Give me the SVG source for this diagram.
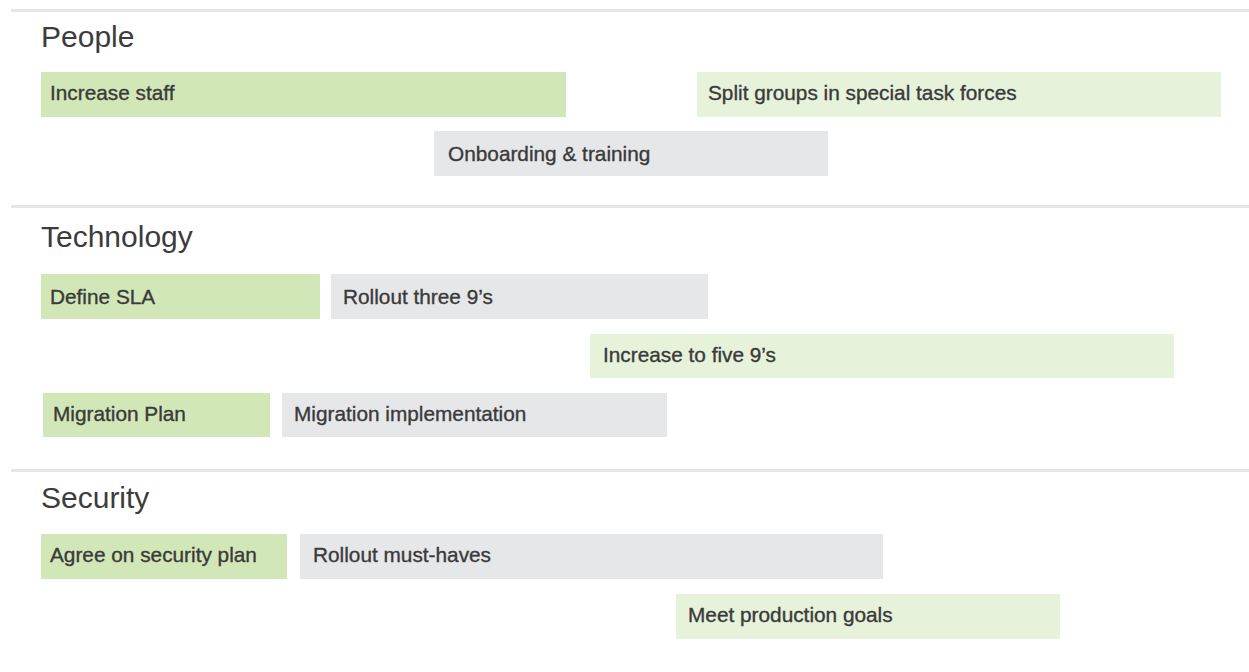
<svg xmlns="http://www.w3.org/2000/svg" width="1249" height="672" viewBox="0 0 1249 672">
<style>
.bg{fill:#ffffff}
.div{fill:#e6e6e6}
.h{font-family:"Liberation Sans",Arial,sans-serif;font-size:30px;fill:#3c3c3c}
.t{font-family:"Liberation Sans",Arial,sans-serif;font-size:20.8px;fill:#3a3a3a;stroke:#3a3a3a;stroke-width:0.35}
.g1{fill:#d2e7b7}
.g2{fill:#e6f2da}
.gr{fill:#e6e7e9}
</style>
<rect class="bg" x="0" y="0" width="1249" height="672"/>
<g id="dividers">
<rect class="div" x="11" y="9" width="1238" height="3"/>
<rect class="div" x="11" y="205" width="1238" height="3"/>
<rect class="div" x="11" y="469" width="1238" height="3"/>
</g>
<g id="heading-people"><text class="h" x="41" y="47">People</text></g>
<g id="heading-technology"><text class="h" x="41" y="247">Technology</text></g>
<g id="heading-security"><text class="h" x="41" y="508">Security</text></g>
<g id="increase-staff"><rect class="g1" x="41" y="72" width="525" height="45"/><text class="t" x="50" y="100">Increase staff</text></g>
<g id="split-groups"><rect class="g2" x="697" y="72" width="524" height="45"/><text class="t" x="708" y="100">Split groups in special task forces</text></g>
<g id="onboarding"><rect class="gr" x="434" y="131" width="394" height="45"/><text class="t" x="448" y="161">Onboarding &amp; training</text></g>
<g id="define-sla"><rect class="g1" x="41" y="274" width="279" height="45"/><text class="t" x="50" y="304">Define SLA</text></g>
<g id="rollout-three"><rect class="gr" x="331" y="274" width="377" height="45"/><text class="t" x="343" y="304">Rollout three 9’s</text></g>
<g id="increase-five"><rect class="g2" x="590" y="334" width="584" height="44"/><text class="t" x="603" y="362">Increase to five 9’s</text></g>
<g id="migration-plan"><rect class="g1" x="43" y="393" width="227" height="44"/><text class="t" x="53" y="421">Migration Plan</text></g>
<g id="migration-impl"><rect class="gr" x="282" y="393" width="385" height="44"/><text class="t" x="294" y="421">Migration implementation</text></g>
<g id="agree-security"><rect class="g1" x="41" y="534" width="246" height="45"/><text class="t" x="50" y="562">Agree on security plan</text></g>
<g id="rollout-must"><rect class="gr" x="300" y="534" width="583" height="45"/><text class="t" x="313" y="562">Rollout must-haves</text></g>
<g id="meet-goals"><rect class="g2" x="676" y="594" width="384" height="45"/><text class="t" x="688" y="622">Meet production goals</text></g>
<g id="connectors"></g>
</svg>
